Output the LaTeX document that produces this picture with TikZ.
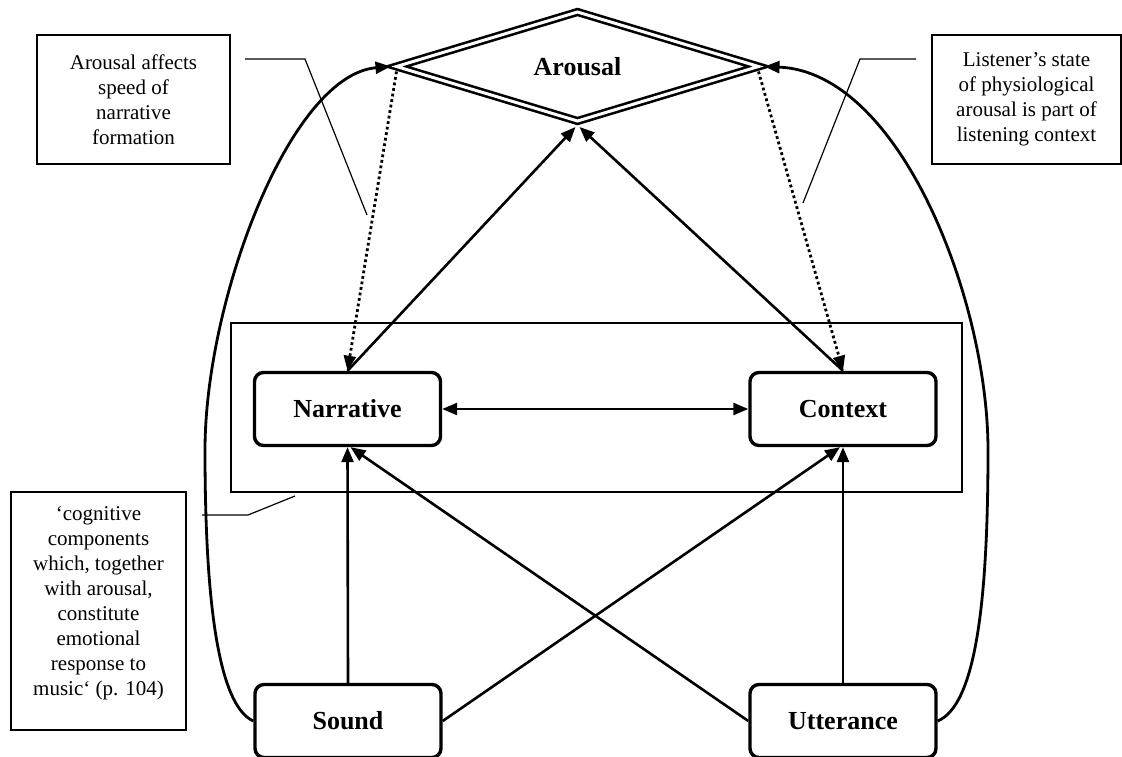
\documentclass[tikz,border=0pt]{standalone}
\usepackage{fontspec}
\setmainfont{Liberation Serif}
\usetikzlibrary{arrows.meta,shapes.geometric}

\begin{document}
\begin{tikzpicture}[x=1pt,y=-1pt,
  tip/.tip={Triangle[length=15pt,width=12pt]},
  stage/.style={draw, line width=3.4pt, rounded corners=9pt,
    minimum width=186pt, minimum height=73pt, inner sep=0pt,
    font=\fontsize{26}{30}\selectfont\bfseries},
  hub/.style={diamond, draw, line width=2.6pt, double, double distance=3pt,
    minimum width=362pt, minimum height=109pt, inner sep=0pt, outer sep=0pt,
    font=\fontsize{26}{30}\selectfont\bfseries},
  note/.style={draw, line width=1.2pt, inner sep=0pt, align=center,
    font=\fontsize{21}{25}\selectfont},
  frame/.style={draw, line width=1.2pt, inner sep=0pt},
  link/.style={line width=2.6pt, -tip},
  dotlink/.style={line width=2.8pt, dash pattern=on 2.8pt off 2.8pt, -tip},
  loopback/.style={line width=2.8pt, -tip},
  pointer/.style={line width=1.2pt},
]
\useasboundingbox (0,0) rectangle (1122,757);

% cognitive components frame
\node[frame, minimum width=731pt, minimum height=169pt] (cog) at (596.5,407.5) {};

% main nodes
\node[hub] (arousal) at (577.5,66.5) {Arousal};
\node[stage] (narr) at (347.5,409) {Narrative};
\node[stage] (ctx) at (843,409) {Context};
\node[stage] (sound) at (348,721) {Sound};
\node[stage] (utter) at (843,721) {Utterance};

% annotation boxes
\node[note, minimum width=193pt, minimum height=129pt] (n1) at (133.5,99.5)
  {Arousal affects\\speed of\\narrative\\formation};
\node[note, minimum width=189pt, minimum height=129pt] (n2) at (1026.5,99.5)
  {Listener’s state\\of physiological\\arousal is part of\\listening context};
\node[note, minimum width=175pt, minimum height=238pt, text depth=20pt] (n3) at (98.5,611)
  {‘cognitive\\components\\which, together\\with arousal,\\constitute\\emotional\\response to\\music‘ (p. 104)};

% annotation pointers
\coordinate (p1a) at (245,59);
\coordinate (p1b) at (305,59);
\coordinate (p1c) at (367,215);
\coordinate (p2a) at (916,59);
\coordinate (p2b) at (860,59);
\coordinate (p2c) at (803,203);
\coordinate (p3a) at (202,515);
\coordinate (p3b) at (248,515);
\coordinate (p3c) at (295,496);
\draw[pointer] (p1a) -- (p1b) -- (p1c);
\draw[pointer] (p2a) -- (p2b) -- (p2c);
\draw[pointer] (p3a) -- (p3b) -- (p3c);

% links between the components
\draw[link] (narr.north) -- ([xshift=-2pt,yshift=-6pt]arousal.south);
\draw[link] (ctx.north) -- ([xshift=2pt,yshift=-6pt]arousal.south);
\draw[dotlink] ([yshift=-5pt]arousal.west) -- (narr.north);
\draw[dotlink] ([yshift=-5pt]arousal.east) -- (ctx.north);
\draw[link, tip-tip] (narr.east) -- (ctx.west);
\draw[link] (sound.north) -- (narr.south);
\draw[link] (utter.north) -- (ctx.south);
\draw[link] (sound.east) -- ([xshift=-3pt]ctx.south);
\draw[link] (utter.west) -- ([xshift=3pt]narr.south);

% feedback loops to arousal
\draw[loopback] (sound.west) .. controls (218,705) and (205,600) .. (205,450)
  .. controls (205,300) and (290,75) .. ([xshift=-6pt]arousal.west);
\draw[loopback] (utter.east) .. controls (976,705) and (988,600) .. (988,450)
  .. controls (988,300) and (900,72) .. ([xshift=6pt]arousal.east);
\end{tikzpicture}
\end{document}
